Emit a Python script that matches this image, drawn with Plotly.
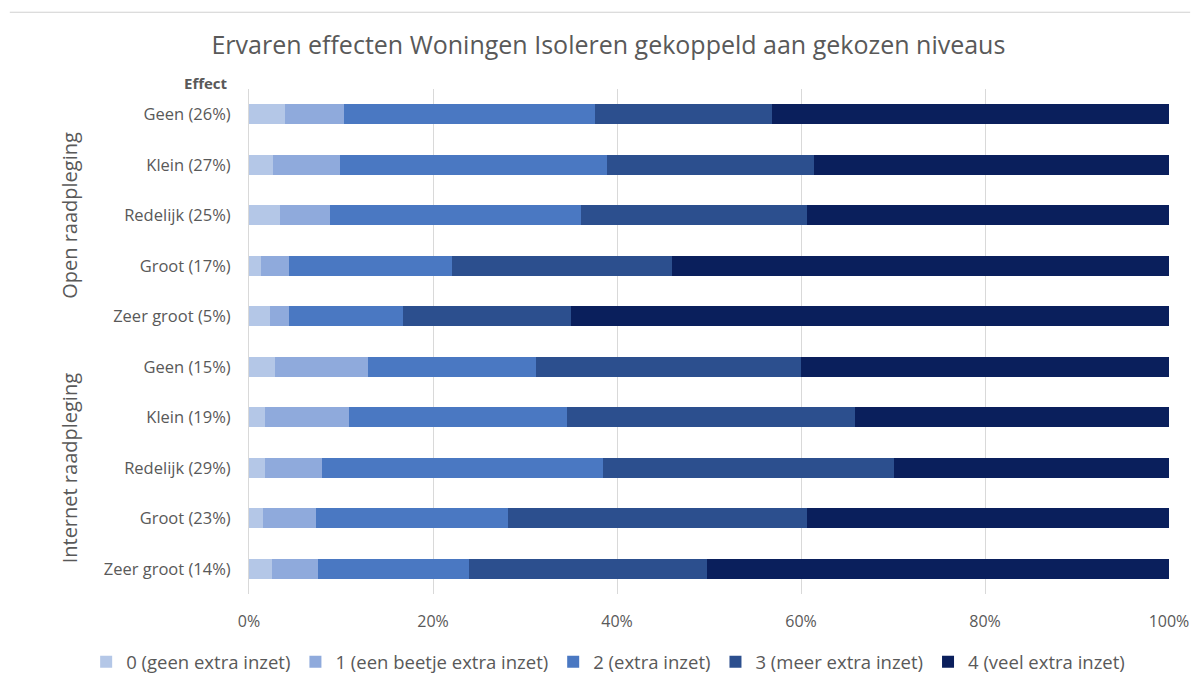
import plotly.graph_objects as go

# Response categories (effect level + share of respondents) per consultation
labels = [
    "Geen (26%)", "Klein (27%)", "Redelijk (25%)", "Groot (17%)", "Zeer groot (5%)",
    "Geen (15%)", "Klein (19%)", "Redelijk (29%)", "Groot (23%)", "Zeer groot (14%)",
]

# Share (%) per chosen level of extra effort, one list per level
level0 = [3.9, 2.6, 3.4, 1.3, 2.3, 2.8, 1.7, 1.7, 1.5, 2.5]
level1 = [6.4, 7.3, 5.4, 3.0, 2.0, 10.1, 9.2, 6.2, 5.8, 5.0]
level2 = [27.3, 29.0, 27.3, 17.8, 12.4, 18.3, 23.7, 30.6, 20.8, 16.4]
level3 = [19.3, 22.5, 24.5, 23.9, 18.3, 28.8, 31.3, 31.6, 32.5, 25.9]
level4 = [43.1, 38.6, 39.4, 54.0, 65.0, 40.0, 34.1, 29.9, 39.4, 50.2]

series_names = [
    "0 (geen extra inzet)",
    "1 (een beetje extra inzet)",
    "2 (extra inzet)",
    "3 (meer extra inzet)",
    "4 (veel extra inzet)",
]
series_values = [level0, level1, level2, level3, level4]
colors = ["#b4c7e7", "#8faadc", "#4a78c2", "#2c4f8e", "#0a1f5c"]

x_ticks = [0, 20, 40, 60, 80, 100]
x_tick_text = ["0%", "20%", "40%", "60%", "80%", "100%"]
rows = list(range(len(labels)))

grey = "#595959"
font_family = "Open Sans, DejaVu Sans, sans-serif"

fig = go.Figure()
for name, vals, col in zip(series_names, series_values, colors):
    fig.add_trace(go.Bar(
        y=rows, x=vals, name=name, orientation="h",
        marker=dict(color=col, line=dict(width=0)),
    ))

fig.update_layout(
    barmode="stack",
    bargap=0.6,
    width=1200, height=693,
    margin=dict(l=249, r=31, t=89, b=99),
    paper_bgcolor="white", plot_bgcolor="white",
    font=dict(family=font_family, color=grey, size=16),
    title=dict(
        text="Ervaren effecten Woningen Isoleren gekoppeld aan gekozen niveaus",
        x=0.507, xanchor="center", y=0.935, yanchor="middle",
        font=dict(size=25, color=grey),
    ),
    xaxis=dict(
        range=[0, 100], tickvals=x_ticks, ticktext=x_tick_text,
        showgrid=True, gridcolor="#d9d9d9", gridwidth=1,
        zeroline=False, showline=False, ticks="",
        ticklabelstandoff=16,
        tickfont=dict(size=16, color=grey),
    ),
    yaxis=dict(
        tickvals=rows, ticktext=labels,
        range=[9.5, -0.5],
        showline=True, linecolor="#d9d9d9", linewidth=1,
        ticks="", ticklabelstandoff=14,
        tickfont=dict(size=16.5, color=grey),
    ),
    legend=dict(
        orientation="h",
        x=-0.177, xanchor="left", y=-0.135, yanchor="middle",
        font=dict(size=18.5, color=grey), traceorder="normal",
        itemwidth=30,
    ),
    showlegend=True,
)

# Axis header and group labels
fig.add_annotation(text="<b>Effect</b>", xref="paper", yref="paper",
                   x=-0.021, y=0.989, xanchor="right", yanchor="bottom",
                   showarrow=False, font=dict(size=15, color=grey))
fig.add_annotation(text="Open raadpleging", xref="paper", yref="y",
                   x=-0.195, xanchor="center", y=2, textangle=-90, showarrow=False,
                   font=dict(size=20, color=grey))
fig.add_annotation(text="Internet raadpleging", xref="paper", yref="y",
                   x=-0.195, xanchor="center", y=7, textangle=-90, showarrow=False,
                   font=dict(size=20, color=grey))

# Thin rule along the top of the canvas
fig.add_shape(type="line", xref="paper", yref="paper",
              x0=-0.260, x1=1.023, y0=1.152, y1=1.152,
              line=dict(color="#d0d0d0", width=1))

fig.write_html("out.html")
